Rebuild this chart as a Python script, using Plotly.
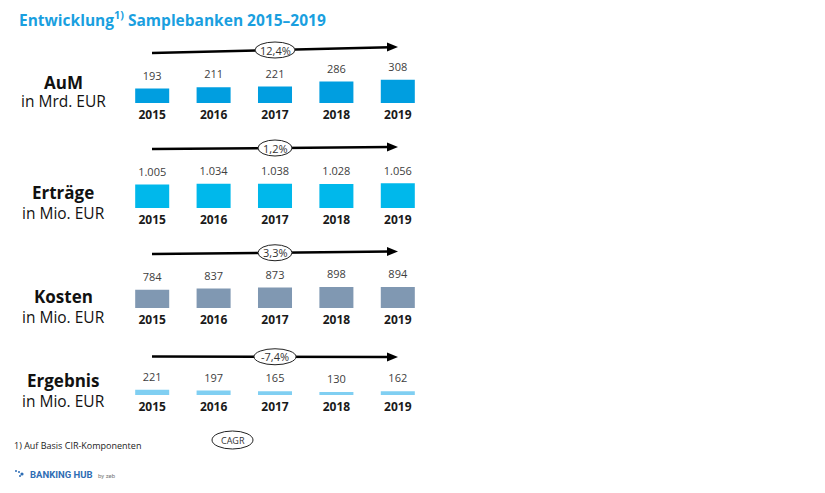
import plotly.graph_objects as go

W, H = 825, 493

years = ['2015', '2016', '2017', '2018', '2019']
aum = [193, 211, 221, 286, 308]
ertraege = [1005, 1034, 1038, 1028, 1056]
kosten = [784, 837, 873, 898, 894]
ergebnis = [221, 197, 165, 130, 162]
cagr = ['12,4%', '1,2%', '3,3%', '-7,4%']
row_titles = ['AuM', 'Erträge', 'Kosten', 'Ergebnis']
row_units = ['in Mrd. EUR', 'in Mio. EUR', 'in Mio. EUR', 'in Mio. EUR']

series = [aum, ertraege, kosten, ergebnis]
colors = ['#009EE0', '#00B8EB', '#8098B2', '#80CFF2']

# layout in pixels (margins are 0, so paper == pixels)
baseline = [103, 208, 308, 395]
units_per_px = [13.3, 42.7, 42.7, 42.7]
arrow_y = [(53, 47), (149, 147), (254, 251.5), (356.5, 357)]
label_y = [(82, 101.5), (192, 212.5), (296, 316.5), (380, 400.5)]
ell_w = [40, 34, 34, 42]
FONT = 'Open Sans'


def px(x):
    return x / W


def py(y):
    return 1 - y / H


def note(x, y, text, size, color='#111', xanchor='center', family=FONT, **kw):
    return dict(x=px(x), y=py(y), xref='paper', yref='paper', text=text,
                showarrow=False, xanchor=xanchor, yanchor='middle',
                font=dict(size=size, color=color, family=family, **kw))


fig = go.Figure()
layout = {}
shapes = []
annotations = []

for i, vals in enumerate(series):
    n = '' if i == 0 else str(i + 1)
    fig.add_trace(go.Bar(
        x=years, y=vals, marker_color=colors[i], marker_line_width=0,
        xaxis='x' + n, yaxis='y' + n, showlegend=False, hoverinfo='x+y'))
    # value labels a little above the bars (invisible marker sets the gap)
    fig.add_trace(go.Scatter(
        x=years, y=vals, mode='markers+text', texttemplate='%{y:,}',
        marker=dict(size=8, color='rgba(0,0,0,0)'),
        textposition='top center', cliponaxis=False,
        textfont=dict(size=11, color='#404040', family=FONT),
        xaxis='x' + n, yaxis='y' + n, showlegend=False, hoverinfo='skip'))
    dom_h = 40
    layout['xaxis' + n] = dict(
        domain=[px(121.5), px(428.5)], anchor='y' + n, showgrid=False,
        showline=False, zeroline=False, ticks='', fixedrange=True,
        ticklabelstandoff=3,
        tickfont=dict(size=12, color='#1a1a1a', family=FONT, weight='bold'))
    layout['yaxis' + n] = dict(
        domain=[py(baseline[i]), py(baseline[i] - dom_h)], anchor='x' + n,
        range=[0, dom_h * units_per_px[i]], visible=False, fixedrange=True)

    # CAGR arrow: line + head, ellipse on top
    (y0, y1) = arrow_y[i]
    x0, hx = 152, 398
    x1 = hx - 8
    shapes.append(dict(type='line', xref='paper', yref='paper',
                       x0=px(x0), y0=py(y0), x1=px(x1),
                       y1=py(y0 + (y1 - y0) * (x1 - x0) / (hx - x0)),
                       line=dict(color='black', width=2.5)))
    hy = y1
    shapes.append(dict(type='path', xref='paper', yref='paper',
                       path=f'M {px(hx)} {py(hy)} L {px(hx - 11)} {py(hy - 4.5)} '
                            f'L {px(hx - 11)} {py(hy + 4.5)} Z',
                       fillcolor='black', line=dict(width=0)))
    cy = y0 + (y1 - y0) * (275 - x0) / (hx - x0)
    shapes.append(dict(type='circle', xref='paper', yref='paper',
                       x0=px(275 - ell_w[i] / 2), x1=px(275 + ell_w[i] / 2),
                       y0=py(cy + 8), y1=py(cy - 8),
                       fillcolor='white', line=dict(color='#222', width=1)))
    annotations.append(note(275, cy, cagr[i], 11, '#333'))

    annotations.append(note(63, label_y[i][0], '<b>' + row_titles[i] + '</b>', 17))
    annotations.append(note(63, label_y[i][1], row_units[i], 15.5))

# title
annotations.append(note(17, 19, '<b>Entwicklung<sup>1)</sup> Samplebanken 2015–2019</b>',
                        15.5, '#1A9FDF', xanchor='left'))

# footnote and CAGR legend
annotations.append(note(12, 445, '1) Auf Basis CIR-Komponenten', 9, '#222', xanchor='left'))
shapes.append(dict(type='circle', xref='paper', yref='paper',
                   x0=px(212), x1=px(253), y0=py(449), y1=py(431),
                   fillcolor='white', line=dict(color='#222', width=1)))
annotations.append(note(232.5, 440, 'CAGR', 9, '#333'))

# logo
for (cx, cy_, r) in [(16, 471, 1), (19, 472, 1), (22, 474, 1.6), (20, 476, 1)]:
    shapes.append(dict(type='circle', xref='paper', yref='paper',
                       x0=px(cx - r), x1=px(cx + r), y0=py(cy_ + r), y1=py(cy_ - r),
                       fillcolor='#2E6DB4', line=dict(width=0)))
annotations.append(note(28, 474, 'BANKING HUB', 9.5, '#2E6DB4', xanchor='left',
                        family='Roboto', weight='bold'))
annotations.append(note(96, 475, 'by zeb', 6, '#777', xanchor='left', family='Roboto'))

layout.update(
    width=W, height=H, margin=dict(l=0, r=0, t=0, b=0),
    paper_bgcolor='white', plot_bgcolor='white',
    bargap=0.446, separators=',.',
    shapes=shapes, annotations=annotations,
    font=dict(family=FONT),
)
fig.update_layout(**layout)

# the page body has a default 8px margin; drop it so the figure sits at 0,0
fig.write_html('out.html', config={'displayModeBar': False},
               post_script="document.body.style.margin='0';")
